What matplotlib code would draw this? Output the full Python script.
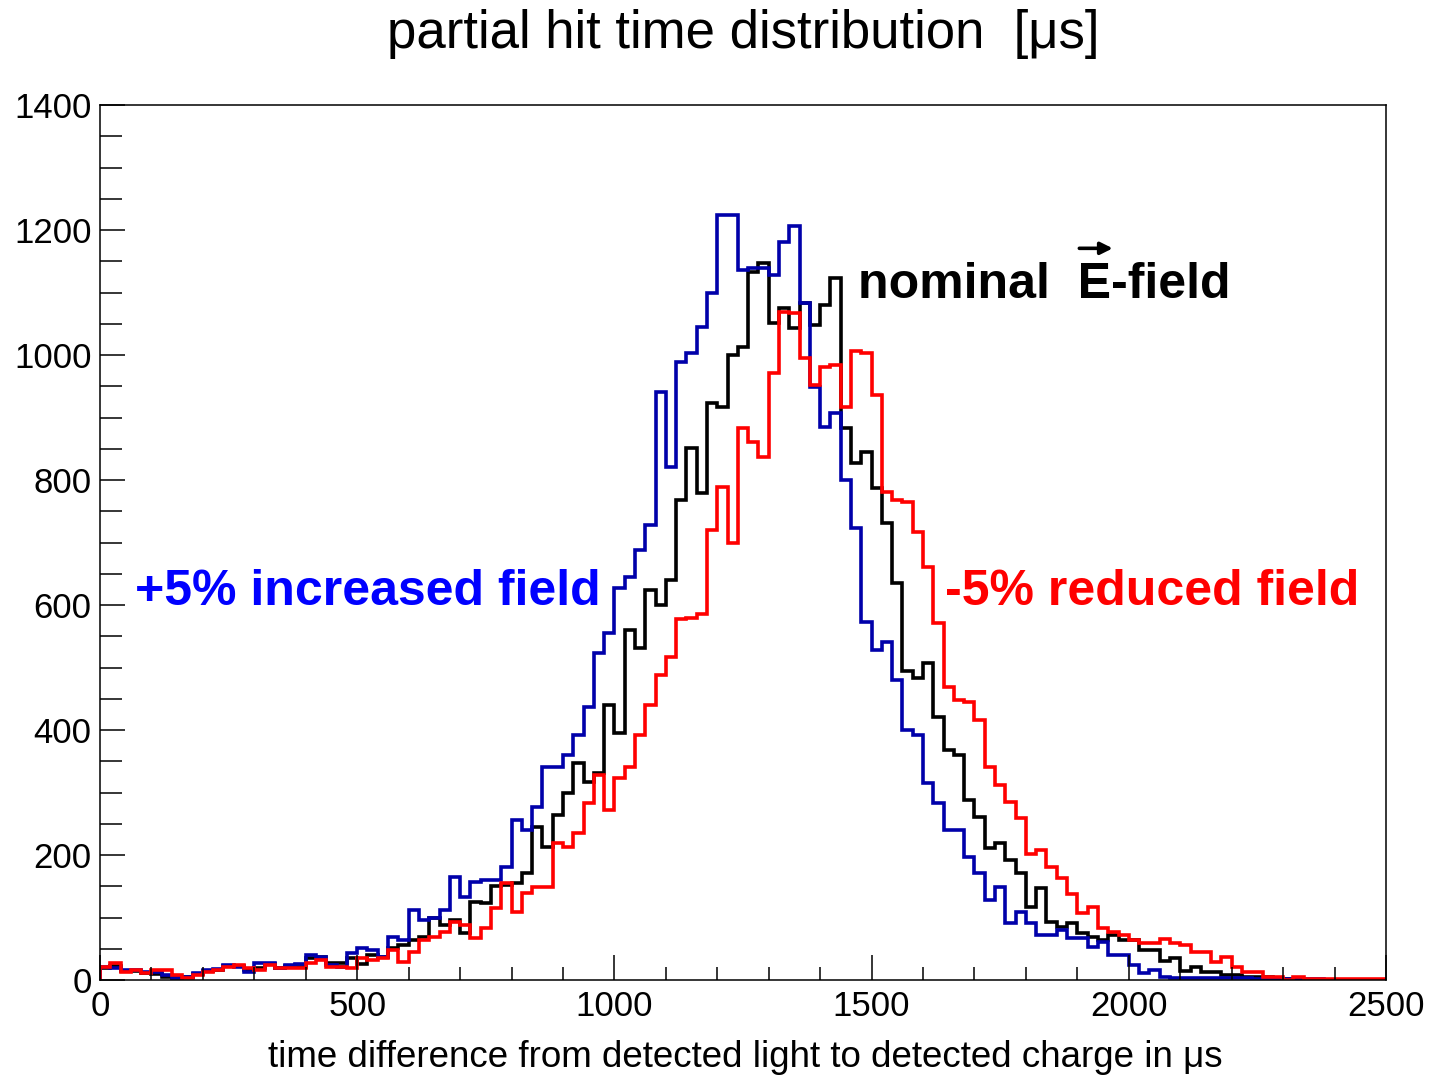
import numpy as np
import matplotlib
matplotlib.use("Agg")
import matplotlib.pyplot as plt
from matplotlib.ticker import MultipleLocator

# ---------------- data (20 us bins, 0..2500 us) ----------------
bin_edges = np.arange(0, 2501, 20)

increased_field = [
    21, 19, 16, 16, 13, 13, 8, 3, 5, 11,
    16, 17, 24, 21, 13, 27, 27, 19, 24, 26,
    40, 37, 24, 21, 43, 51, 48, 37, 69, 64,
    112, 96, 99, 112, 165, 133, 157, 160, 160, 181,
    256, 240, 277, 341, 341, 360, 392, 437, 523, 555,
    627, 645, 688, 728, 941, 821, 989, 1003, 1045, 1099,
    1224, 1224, 1136, 1140, 1140, 1128, 1181, 1206, 1083, 949,
    885, 907, 800, 723, 573, 528, 541, 480, 400, 392,
    315, 283, 240, 240, 197, 171, 128, 149, 91, 109,
    91, 72, 72, 80, 67, 67, 53, 61, 40, 40,
    24, 11, 16, 5, 3, 3, 3, 3, 3, 3,
    3, 3, 2, 2, 2, 1, 1, 1, 1, 0,
    0, 0, 0, 0, 0,
]

nominal_field = [
    20, 22, 14, 15, 12, 10, 5, 4, 5, 10,
    15, 16, 22, 22, 16, 20, 25, 19, 22, 21,
    35, 37, 27, 27, 35, 25, 40, 37, 51, 56,
    64, 69, 99, 88, 96, 75, 125, 123, 150, 152,
    155, 171, 245, 213, 264, 299, 347, 317, 331, 440,
    395, 560, 531, 624, 600, 640, 768, 852, 779, 923,
    917, 1000, 1013, 1133, 1147, 1051, 1075, 1043, 1083, 1048,
    1080, 1123, 883, 827, 845, 787, 732, 635, 495, 483,
    508, 421, 368, 360, 288, 261, 211, 220, 192, 171,
    117, 147, 93, 85, 91, 75, 69, 64, 72, 64,
    64, 48, 48, 30, 35, 15, 21, 13, 13, 8,
    8, 5, 5, 5, 1, 1, 1, 0, 0, 0,
    0, 0, 0, 0, 0,
]

reduced_field = [
    21, 27, 13, 16, 11, 16, 16, 8, 3, 8,
    13, 16, 21, 24, 19, 16, 24, 19, 19, 20,
    27, 32, 21, 21, 19, 35, 32, 35, 48, 29,
    45, 64, 69, 77, 93, 88, 67, 83, 115, 155,
    109, 139, 149, 149, 219, 213, 235, 283, 328, 272,
    323, 341, 392, 440, 488, 517, 578, 580, 585, 720,
    789, 699, 883, 861, 837, 971, 1069, 1067, 995, 952,
    981, 984, 917, 1007, 1003, 936, 781, 768, 765, 717,
    661, 572, 469, 448, 445, 416, 341, 312, 285, 260,
    202, 208, 181, 163, 138, 107, 117, 83, 77, 72,
    64, 59, 59, 66, 60, 56, 45, 45, 29, 37,
    21, 13, 13, 5, 5, 0, 5, 1, 1, 1,
    1, 1, 1, 1, 1,
]

title = "partial hit time distribution  [\u03bcs]"
xlabel = "time difference from detected light to detected charge in \u03bcs"

# ---------------- style ----------------
plt.rcParams["font.family"] = ["Liberation Sans", "DejaVu Sans"]

W, H = 1431, 1081
fig = plt.figure(figsize=(W / 100, H / 100), dpi=100)
ax = fig.add_axes([100 / W, 1 - 980 / H, 1286 / W, 875 / H])

lw = 2.6
ax.stairs(nominal_field, bin_edges, color="black", lw=lw)
ax.stairs(increased_field, bin_edges, color="#0000aa", lw=lw)
ax.stairs(reduced_field, bin_edges, color="#ff0000", lw=lw)

ax.set_xlim(0, 2500)
ax.set_ylim(0, 1400)

ax.xaxis.set_major_locator(MultipleLocator(500))
ax.xaxis.set_minor_locator(MultipleLocator(100))
ax.yaxis.set_major_locator(MultipleLocator(200))
ax.yaxis.set_minor_locator(MultipleLocator(50))

ax.tick_params(axis="both", which="both", direction="in", width=1.1,
               top=False, right=False, labelsize=25)
ax.tick_params(axis="x", which="major", length=18, pad=7)
ax.tick_params(axis="x", which="minor", length=9.5)
ax.tick_params(axis="y", which="major", length=18, pad=6)
ax.tick_params(axis="y", which="minor", length=15.5)
for s in ax.spines.values():
    s.set_linewidth(1.1)

# annotations
ax.text(68, 600, "+5% increased field", color="#0000ff", fontsize=36,
        fontweight="bold", ha="left", va="baseline")
ax.text(1643, 600, "-5% reduced field", color="#ff0000", fontsize=36,
        fontweight="bold", ha="left", va="baseline")
nom_x, nom_y = 1473, 1091
nom_head = "nominal  E"
ax.text(nom_x, nom_y, "nominal  E-field", color="black", fontsize=36,
        fontweight="bold", ha="left", va="baseline")

fig.text(743 / W, 1 - 48 / H, title, fontsize=38, ha="center", va="baseline")
fig.text(745 / W, 1 - 1067 / H, xlabel, fontsize=26.5, ha="center", va="baseline")

# vector arrow over the "E"
fig.canvas.draw()
renderer = fig.canvas.get_renderer()
probe1 = ax.text(nom_x, nom_y, nom_head, fontsize=36, fontweight="bold",
                 ha="left", va="baseline", alpha=0)
probe2 = ax.text(nom_x, nom_y, "E", fontsize=36, fontweight="bold",
                 ha="left", va="baseline", alpha=0)
bb1 = probe1.get_window_extent(renderer)
bb2 = probe2.get_window_extent(renderer)
probe1.remove()
probe2.remove()
e_right = bb1.x1
e_left = e_right - bb2.width
base_px = ax.transData.transform((nom_x, nom_y))[1]
arrow_y = base_px + 0.716 * 36 * 100 / 72 + 14
ax.annotate("", xy=(e_right + 2, arrow_y), xytext=(e_left + 2, arrow_y),
            xycoords="figure pixels", textcoords="figure pixels",
            arrowprops=dict(arrowstyle="-|>", lw=2.6, color="black",
                            mutation_scale=18, shrinkA=0, shrinkB=0))

fig.savefig("out.png", dpi=100)
